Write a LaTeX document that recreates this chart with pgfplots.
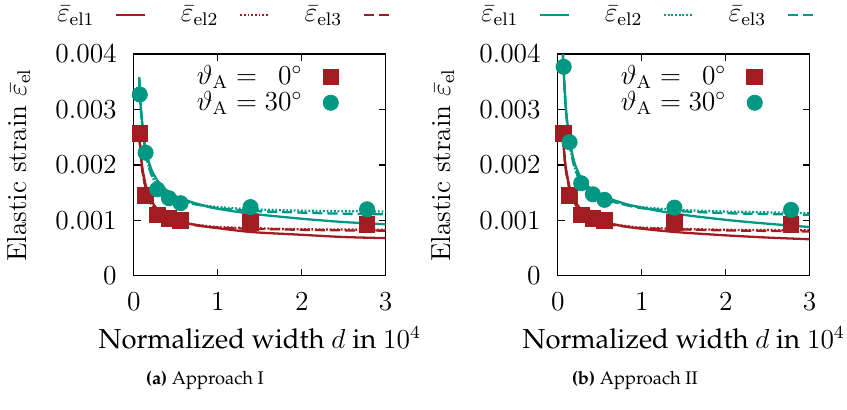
\documentclass[border=0pt]{standalone}
\usepackage[T1,TU]{fontenc}
\usepackage{pgfplots}
\pgfplotsset{compat=1.18}
\newcommand\pal{\fontencoding{T1}\fontfamily{ppl}\selectfont}
\definecolor{cred}{RGB}{161,29,33}
\definecolor{cteal}{RGB}{0,152,130}
\pgfplotsset{
  panel/.style={
    scale only axis, width=110pt, height=96.9pt,
    xmin=0, xmax=3, ymin=0, ymax=0.004,
    xtick={0,1,2,3}, ytick={0,0.001,0.002,0.003,0.004},
    yticklabels={$0$,$0.001$,$0.002$,$0.003$,$0.004$},
    scaled y ticks=false,
    tick align=inside, major tick length=3pt,
    tick label style={font=\fontsize{12}{14}\selectfont},
    xticklabel style={yshift=-4pt}, yticklabel style={xshift=-4pt},
    axis line style={line width=0.5pt},
    every tick/.style={black, line width=0.5pt},
  },
  curve/.style={line width=1pt, smooth, no marks, forget plot},
  dott/.style={dash pattern=on 0.8pt off 0.8pt},
  dash/.style={dash pattern=on 4.4pt off 2.2pt},
  toplegend/.style={
    legend columns=3, legend plot pos=right,
    legend style={at={(axis description cs:-0.305,1.175)}, anchor=west,
      draw=none, fill=none, inner sep=0pt, outer sep=0pt,
      font=\fontsize{12}{14}\selectfont,
      nodes={inner sep=0pt},
      /tikz/every odd column/.append style={column sep=9pt},
      /tikz/every even column/.append style={column sep=15pt}},
    legend image code/.code={\draw[##1] (0pt,0pt) -- (12.7pt,0pt);},
  },
  marklegend/.style={
    legend plot pos=right, legend cell align=right,
    legend style={at={(axis description cs:0.25,0.948)}, anchor=north west,
      draw=none, fill=none, inner sep=0pt, outer sep=0pt,
      font=\fontsize{12}{14}\selectfont,
      nodes={inner sep=0pt},
      /tikz/every odd column/.append style={column sep=9pt},
      /tikz/row sep=1.5pt},
  },
  sq/.style={only marks, mark=square*, mark size=3.4pt, color=cred},
  ci/.style={only marks, mark=*, mark size=3.3pt, color=cteal},
}
\begin{document}
\begin{tikzpicture}
\path[use as bounding box] (-58.5pt,-58.5pt) rectangle (311.5pt,120.5pt);
% ---------------- panel (a)
\begin{axis}[panel, toplegend,
  xlabel={\pal\fontsize{12}{14}\selectfont Normalized width $d$ in $10^4$},
  xlabel style={at={(axis description cs:0.5,-0.28)}, anchor=center},
  ylabel={\fontsize{12}{14}\selectfont Elastic strain $\bar{\varepsilon}_{\mathrm{el}}$},
  ylabel style={at={(axis description cs:-0.458,0.5)}, anchor=center},
]
\addlegendimage{line width=1pt, cred}
\addlegendentry{$\bar{\varepsilon}_{\mathrm{el1}}$}
\addlegendimage{line width=1pt, cred, dott}
\addlegendentry{$\bar{\varepsilon}_{\mathrm{el2}}$}
\addlegendimage{line width=1pt, cred, dash}
\addlegendentry{$\bar{\varepsilon}_{\mathrm{el3}}$}
\addplot[curve, cred] coordinates {(0.063,0.00260) (0.08,0.00225) (0.1,0.00195) (0.143,0.00162) (0.2,0.00138) (0.28,0.00120) (0.4,0.00107) (0.55,0.00098) (0.8,0.00090) (1.0,0.00086) (1.4,0.00079) (2.0,0.00074) (2.5,0.00070) (3.0,0.00068)};
\addplot[curve, cred, dott] coordinates {(0.063,0.00255) (0.08,0.00220) (0.1,0.00190) (0.143,0.00156) (0.2,0.00132) (0.28,0.00115) (0.4,0.00103) (0.55,0.00096) (0.8,0.00091) (1.0,0.00088) (1.4,0.00086) (2.0,0.00084) (2.5,0.000835) (3.0,0.00083)};
\addplot[curve, cred, dash] coordinates {(0.063,0.00255) (0.08,0.00220) (0.1,0.00190) (0.143,0.00156) (0.2,0.00132) (0.28,0.00115) (0.4,0.00103) (0.55,0.00095) (0.8,0.00090) (1.0,0.00087) (1.4,0.00085) (2.0,0.00083) (2.5,0.00082) (3.0,0.000815)};
\addplot[curve, cteal] coordinates {(0.063,0.00355) (0.08,0.00310) (0.1,0.00275) (0.143,0.00228) (0.2,0.00195) (0.28,0.00172) (0.4,0.00153) (0.55,0.00140) (0.8,0.00128) (1.0,0.00121) (1.4,0.00112) (2.0,0.00103) (2.5,0.00097) (3.0,0.00093)};
\addplot[curve, cteal, dott] coordinates {(0.063,0.00358) (0.08,0.00308) (0.1,0.00270) (0.143,0.00220) (0.2,0.00186) (0.28,0.00163) (0.4,0.00146) (0.55,0.00136) (0.8,0.00128) (1.0,0.00124) (1.4,0.00120) (2.0,0.001175) (2.5,0.001165) (3.0,0.00116)};
\addplot[curve, cteal, dash] coordinates {(0.063,0.00358) (0.08,0.00308) (0.1,0.00270) (0.143,0.00220) (0.2,0.00186) (0.28,0.00163) (0.4,0.00145) (0.55,0.00135) (0.8,0.00127) (1.0,0.00122) (1.4,0.00117) (2.0,0.00114) (2.5,0.00112) (3.0,0.00111)};
\end{axis}
\begin{axis}[panel, hide axis, marklegend]
\addplot[sq] coordinates {(0.0694,0.00257) (0.139,0.00145) (0.278,0.00110) (0.417,0.00103) (0.556,0.00100) (1.389,0.00096) (2.778,0.00093)};
\addlegendentry{$\vartheta_{\mathrm{A}} = \phantom{3}0^\circ$}
\addplot[ci] coordinates {(0.0694,0.00327) (0.139,0.00222) (0.278,0.00156) (0.417,0.00140) (0.556,0.00131) (1.389,0.00124) (2.778,0.00120)};
\addlegendentry{$\vartheta_{\mathrm{A}} = 30^\circ$}
\end{axis}
% ---------------- panel (b)
\begin{axis}[panel, toplegend, at={(185.2pt,0pt)}, anchor=south west,
  xlabel={\pal\fontsize{12}{14}\selectfont Normalized width $d$ in $10^4$},
  xlabel style={at={(axis description cs:0.5,-0.28)}, anchor=center},
  ylabel={\fontsize{12}{14}\selectfont Elastic strain $\bar{\varepsilon}_{\mathrm{el}}$},
  ylabel style={at={(axis description cs:-0.458,0.5)}, anchor=center},
]
\addlegendimage{line width=1pt, cteal}
\addlegendentry{$\bar{\varepsilon}_{\mathrm{el1}}$}
\addlegendimage{line width=1pt, cteal, dott}
\addlegendentry{$\bar{\varepsilon}_{\mathrm{el2}}$}
\addlegendimage{line width=1pt, cteal, dash}
\addlegendentry{$\bar{\varepsilon}_{\mathrm{el3}}$}
\addplot[curve, cred] coordinates {(0.06,0.00255) (0.08,0.00215) (0.1,0.00190) (0.143,0.00158) (0.2,0.00136) (0.28,0.00119) (0.4,0.00106) (0.55,0.00097) (0.8,0.00089) (1.0,0.00085) (1.4,0.00079) (2.0,0.00073) (2.5,0.00069) (3.0,0.00066)};
\addplot[curve, cred, dott] coordinates {(0.06,0.00250) (0.08,0.00212) (0.1,0.00186) (0.143,0.00154) (0.2,0.00131) (0.28,0.00115) (0.4,0.00103) (0.55,0.00095) (0.8,0.00090) (1.0,0.00087) (1.4,0.00085) (2.0,0.00083) (2.5,0.000825) (3.0,0.00082)};
\addplot[curve, cred, dash] coordinates {(0.06,0.00250) (0.08,0.00212) (0.1,0.00186) (0.143,0.00154) (0.2,0.00131) (0.28,0.00115) (0.4,0.00103) (0.55,0.00094) (0.8,0.00089) (1.0,0.00086) (1.4,0.00084) (2.0,0.00082) (2.5,0.00081) (3.0,0.00080)};
\addplot[curve, cteal] coordinates {(0.058,0.00405) (0.07,0.00370) (0.08,0.00340) (0.1,0.00295) (0.143,0.00242) (0.2,0.00203) (0.28,0.00176) (0.4,0.00156) (0.55,0.00143) (0.8,0.00130) (1.0,0.00123) (1.4,0.00112) (2.0,0.00101) (2.5,0.00094) (3.0,0.00088)};
\addplot[curve, cteal, dott] coordinates {(0.058,0.00405) (0.07,0.00368) (0.08,0.00336) (0.1,0.00290) (0.143,0.00235) (0.2,0.00195) (0.28,0.00168) (0.4,0.00150) (0.55,0.00139) (0.8,0.00129) (1.0,0.00124) (1.4,0.00119) (2.0,0.00116) (2.5,0.001145) (3.0,0.00113)};
\addplot[curve, cteal, dash] coordinates {(0.058,0.00405) (0.07,0.00368) (0.08,0.00336) (0.1,0.00290) (0.143,0.00235) (0.2,0.00195) (0.28,0.00168) (0.4,0.00149) (0.55,0.00138) (0.8,0.00128) (1.0,0.00122) (1.4,0.00117) (2.0,0.00113) (2.5,0.001115) (3.0,0.00110)};
\end{axis}
\begin{axis}[panel, hide axis, marklegend, at={(185.2pt,0pt)}, anchor=south west]
\addplot[sq] coordinates {(0.0694,0.00257) (0.139,0.00145) (0.278,0.00110) (0.417,0.00103) (0.556,0.00100) (1.389,0.00096) (2.778,0.00093)};
\addlegendentry{$\vartheta_{\mathrm{A}} = \phantom{3}0^\circ$}
\addplot[ci] coordinates {(0.0694,0.00377) (0.139,0.00241) (0.278,0.00167) (0.417,0.00147) (0.556,0.00137) (1.389,0.00123) (2.778,0.00119)};
\addlegendentry{$\vartheta_{\mathrm{A}} = 30^\circ$}
\end{axis}
% captions
\node[anchor=center] at (31pt,-45.5pt) {\pal\fontsize{8}{9}\selectfont\textbf{(a)} Approach I};
\node[anchor=center] at (218.8pt,-45.5pt) {\pal\fontsize{8}{9}\selectfont\textbf{(b)} Approach II};
\end{tikzpicture}
\end{document}
